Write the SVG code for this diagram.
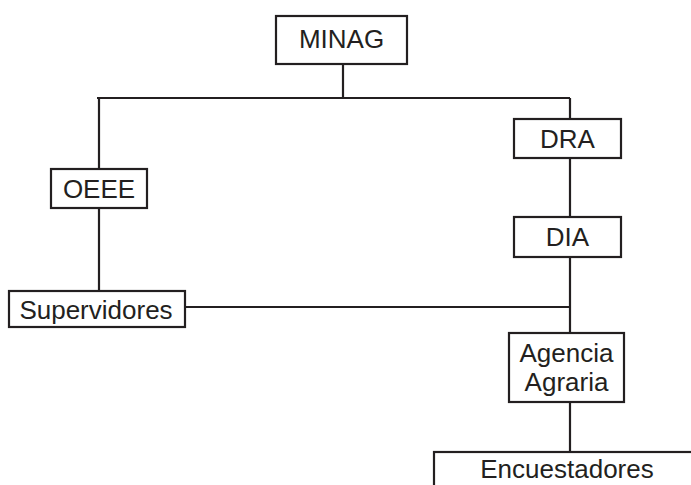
<svg xmlns="http://www.w3.org/2000/svg" width="691" height="485" viewBox="0 0 691 485">
<style>
.box{fill:#fff;stroke:#231f20;stroke-width:2.2}
.ln{fill:none;stroke:#231f20;stroke-width:2.2}
text{font-family:"Liberation Sans",Arial,sans-serif;font-size:26px;fill:#231f20;text-anchor:middle}
</style>
<rect width="691" height="485" fill="#fff"/>
<g id="connectors">
<path class="ln" d="M343,64 V98 M97,98 H570 M99,98 V169 M99,208 V291 M185,307 H570 M570,98 V119 M570,158 V217 M570,257 V333 M570,402 V452"/>
</g>
<g id="minag"><rect class="box" x="276" y="16" width="131" height="48"/><text x="341.5" y="48">MINAG</text></g>
<g id="oeee"><rect class="box" x="51" y="169" width="96" height="39"/><text x="99" y="198">OEEE</text></g>
<g id="supervidores"><rect class="box" x="9" y="291" width="176" height="36"/><text x="96" y="319">Supervidores</text></g>
<g id="dra"><rect class="box" x="514" y="119" width="107" height="39"/><text x="567.5" y="148">DRA</text></g>
<g id="dia"><rect class="box" x="514" y="217" width="107" height="40"/><text x="567.5" y="246">DIA</text></g>
<g id="agencia"><rect class="box" x="509" y="333" width="115" height="69"/><text x="566.5" y="362">Agencia</text><text x="566.5" y="391">Agraria</text></g>
<g id="encuestadores"><rect class="box" x="434" y="452" width="270" height="50"/><text x="567" y="478">Encuestadores</text></g>
</svg>
